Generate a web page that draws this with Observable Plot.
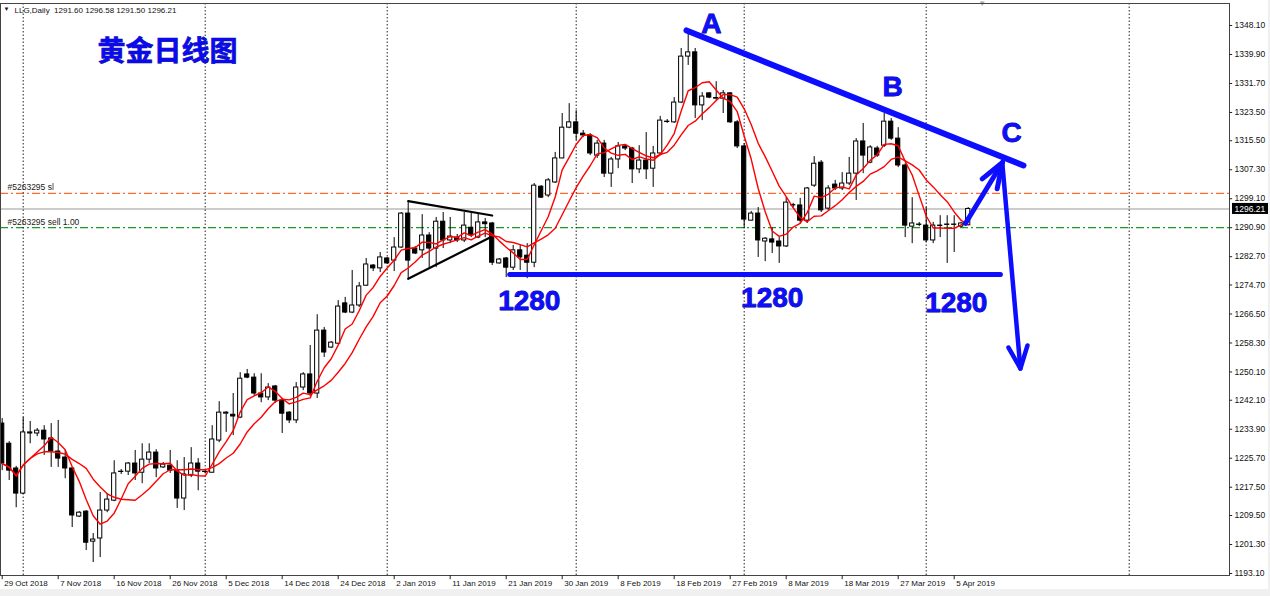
<!DOCTYPE html>
<html>
<head>
<meta charset="utf-8">
<script src="https://cdn.jsdelivr.net/npm/d3@7"></script>
<script src="https://cdn.jsdelivr.net/npm/@observablehq/plot@0.6"></script>
<style>
  html, body { margin: 0; padding: 0; background: #ffffff; }
  #wrap { position: relative; width: 1270px; height: 596px; overflow: hidden; }
  .strip { position: absolute; background: #f0f0f0; }
</style>
</head>
<body>
<div id="wrap"></div>
<script>
// ---------- data (LLG daily, bar index 0 = 29 Oct 2018) ----------
const opens = [
  1235.5,1229.8,1222.8,1215.7,1232.7,1232.7,1233.5,1231.3,1227.6,1225.9,
  1222.8,1209.2,1210.6,1202.1,1203.0,1210.9,1213.7,1221.8,1221.9,1224.2,
  1221.6,1225.3,1227.3,1223.1,1223.6,1222.2,1214.3,1220.8,1224.2,1221.9,
  1221.6,1230.7,1238.3,1238.0,1237.2,1249.4,1248.5,1244.0,1242.9,1246.0,
  1242.0,1238.6,1236.4,1245.7,1249.4,1244.0,1261.8,1257.0,1258.1,1269.5,
  1266.9,1268.9,1274.5,1280.2,1279.4,1282.2,1281.6,1285.3,1294.9,1285.0,
  1284.5,1288.7,1285.0,1292.6,1287.3,1288.1,1287.3,1290.9,1288.1,1292.4,
  1292.1,1280.8,1282.2,1279.6,1284.5,1283.0,1281.0,1302.5,1300.0,1303.7,
  1310.5,1319.2,1320.7,1317.5,1317.0,1311.3,1314.7,1306.2,1310.2,1313.9,
  1313.3,1307.4,1309.9,1307.6,1311.9,1320.8,1320.7,1326.3,1339.3,1340.5,
  1325.5,1328.9,1327.4,1327.4,1328.9,1320.7,1313.9,1292.9,1294.9,1287.0,
  1287.6,1287.0,1285.6,1297.2,1297.2,1292.9,1302.8,1309.3,1296.3,1303.1,
  1302.0,1303.4,1306.2,1315.3,1309.3,1313.3,1314.1,1320.9,1316.1,1308.5,
  1291.2,1291.8,1291.5,1287.3,1291.5,1291.8,1291.7,1291.2,1291.60
];
const highs = [
  1236.9,1230.4,1223.4,1237.2,1236.1,1234.1,1234.9,1235.5,1236.4,1227.9,
  1223.1,1210.6,1210.9,1204.4,1216.0,1215.7,1225.0,1222.5,1224.5,1227.9,
  1229.8,1229.8,1228.1,1224.5,1227.9,1225.0,1225.9,1228.7,1225.6,1222.2,
  1234.9,1241.7,1238.9,1244.0,1249.9,1250.8,1249.6,1249.6,1246.8,1246.3,
  1242.6,1238.9,1247.1,1249.9,1257.6,1266.3,1262.7,1258.7,1270.3,1271.2,
  1278.8,1275.4,1282.2,1280.5,1283.9,1282.5,1288.1,1295.2,1298.3,1285.6,
  1294.6,1289.5,1293.8,1295.2,1293.8,1289.0,1295.2,1294.9,1294.9,1293.5,
  1292.4,1282.2,1282.5,1285.9,1285.9,1286.4,1303.4,1302.8,1304.8,1312.2,
  1323.2,1326.0,1324.0,1318.4,1317.5,1315.6,1315.6,1310.8,1315.0,1314.4,
  1313.6,1314.1,1317.8,1313.9,1322.4,1321.5,1327.7,1341.6,1345.8,1341.6,
  1329.1,1329.1,1332.2,1329.7,1329.1,1321.2,1314.7,1295.5,1296.6,1288.1,
  1290.9,1288.1,1299.4,1297.8,1299.2,1302.3,1311.0,1309.9,1302.8,1304.3,
  1306.5,1310.8,1316.1,1320.4,1314.1,1313.9,1323.2,1321.8,1319.2,1309.0,
  1299.4,1292.4,1296.6,1292.4,1294.3,1294.3,1294.3,1292.4,1296.58
];
const lows = [
  1222.2,1219.4,1211.7,1215.4,1229.8,1231.8,1226.5,1223.1,1223.1,1219.9,
  1206.1,1208.9,1199.6,1196.2,1197.6,1210.3,1213.4,1221.1,1220.8,1219.4,
  1218.5,1224.2,1220.2,1222.8,1221.4,1211.5,1210.9,1220.2,1216.5,1221.4,
  1221.5,1230.1,1233.0,1232.1,1236.9,1248.2,1243.4,1241.4,1242.0,1241.2,
  1232.7,1235.5,1235.5,1244.8,1243.1,1242.6,1254.2,1256.7,1257.8,1266.6,
  1266.6,1268.3,1274.3,1278.5,1278.2,1280.5,1278.5,1285.0,1276.5,1283.3,
  1282.2,1279.6,1279.6,1285.0,1286.4,1286.7,1286.7,1288.1,1287.8,1288.1,
  1280.2,1280.6,1276.8,1278.8,1278.8,1276.5,1279.6,1299.2,1299.4,1303.4,
  1310.4,1318.9,1315.6,1316.4,1311.3,1310.5,1305.1,1302.3,1307.6,1312.7,
  1303.4,1306.2,1304.5,1302.3,1311.3,1320.4,1320.4,1326.0,1336.8,1321.8,
  1321.2,1327.4,1326.9,1323.2,1320.4,1313.3,1290.7,1292.8,1282.5,1281.3,
  1283.6,1280.8,1285.3,1296.6,1292.1,1292.1,1302.3,1295.2,1295.8,1301.4,
  1301.4,1302.8,1298.6,1306.2,1309.0,1310.8,1313.6,1315.6,1307.9,1288.1,
  1286.4,1291.2,1286.7,1286.4,1288.1,1280.8,1283.9,1290.9,1291.50
];
const closes = [
  1224.2,1222.2,1215.7,1233.0,1233.0,1233.5,1231.0,1227.6,1225.6,1222.8,
  1209.5,1210.3,1201.8,1202.7,1210.9,1214.0,1221.4,1221.9,1224.2,1221.4,
  1225.3,1227.3,1222.8,1223.9,1222.2,1214.3,1221.1,1224.2,1221.9,1221.8,
  1231.0,1238.6,1238.6,1237.5,1248.2,1248.5,1244.0,1242.9,1245.7,1242.0,
  1238.3,1236.4,1245.7,1249.4,1244.0,1261.8,1255.6,1258.4,1268.6,1266.9,
  1268.9,1274.3,1280.5,1279.4,1282.5,1280.8,1285.3,1294.9,1281.6,1283.6,
  1288.7,1285.0,1292.6,1287.3,1288.4,1287.3,1291.5,1288.7,1292.4,1291.9,
  1281.0,1281.9,1279.6,1284.5,1282.5,1281.0,1302.8,1299.4,1304.3,1310.5,
  1319.2,1320.7,1317.5,1317.0,1311.9,1314.7,1306.2,1310.2,1313.9,1313.3,
  1307.4,1309.9,1307.4,1311.9,1321.2,1320.9,1326.3,1339.3,1340.5,1325.5,
  1328.0,1327.7,1327.6,1328.9,1320.7,1313.9,1293.2,1294.9,1287.3,1287.8,
  1286.7,1285.6,1298.0,1297.3,1292.9,1302.0,1309.0,1295.8,1302.0,1302.0,
  1303.4,1306.2,1315.3,1311.3,1313.6,1311.3,1320.9,1316.1,1308.5,1291.5,
  1292.1,1291.7,1287.3,1291.5,1291.4,1291.7,1291.8,1292.1,1296.21
];

const xTickBars = [0,8,16,24,32,40,48,56,64,72,80,88,96,104,112,120,128,136];
const xTickLabels = ["29 Oct 2018","7 Nov 2018","16 Nov 2018","26 Nov 2018","5 Dec 2018",
  "14 Dec 2018","24 Dec 2018","2 Jan 2019","11 Jan 2019","21 Jan 2019","30 Jan 2019",
  "8 Feb 2019","18 Feb 2019","27 Feb 2019","8 Mar 2019","18 Mar 2019","27 Mar 2019","5 Apr 2019"];
const yTicks = [1348.10,1339.90,1331.70,1323.50,1315.50,1307.30,1299.10,1290.90,1282.70,1274.70,
  1266.50,1258.30,1250.10,1242.10,1233.90,1225.70,1217.50,1209.50,1201.30,1193.10];
const gridBars = [3,29,55,82,106,132,161];

const slLevel = 1300.6;
const sellLevel = 1290.9;
const lastPrice = 1296.21;
const headerText = "LLG,Daily  1291.60 1296.58 1291.50 1296.21";
const titleText = "黄金日线图";

// annotation geometry in (bar index, price)
const trendLine   = [[97.76,1346.7],[145.9,1308.5]];
const supportLine = [[72.5,1277.7],[142.6,1277.7]];
const triTop      = [[58,1298.4],[70.0,1294.35]];
const triBottom   = [[58,1276.44],[69.76,1288.21]];
const upShaft     = [[137.6,1292.1],[142.9,1309.35]];
const upHead      = [[140.0,1304.7],[142.9,1309.35],[142.14,1301.9]];
const downShaft   = [[142.9,1308.5],[145.46,1251.07]];
const downHead    = [[143.76,1257.0],[145.46,1251.07],[146.47,1257.6]];
const letterLabels = [{t:"A",x:101.3,y:1348.5},{t:"B",x:127.2,y:1330.6},{t:"C",x:144.2,y:1317.55}];
const levelLabels  = [{t:"1280",x:75.3,y:1270.3},{t:"1280",x:110.0,y:1271.15},{t:"1280",x:136.3,y:1269.5}];
const shiftBar = 140;

// ---------- chart ----------
const bars = closes.map((c, i) => ({i, open: opens[i], high: highs[i], low: lows[i], close: c}));
const xDomain = [-0.243, 175.33];
const yDomain = [1192.53, 1354.32];
const xMax = xDomain[1];
const blue = "#0d0dff";
const pts = a => a.map(([x, y]) => ({x, y}));
const poly = (a, w) => Plot.line(pts(a), {x: "x", y: "y", stroke: blue, strokeWidth: w, strokeLinecap: "round", strokeLinejoin: "round"});

const chart = Plot.plot({
  width: 1270, height: 596,
  marginLeft: 0, marginRight: 41, marginTop: 3, marginBottom: 21,
  x: {domain: xDomain, axis: null},
  y: {domain: yDomain, axis: null},
  style: {fontFamily: "Liberation Sans, Arial, sans-serif", background: "white", overflow: "visible"},
  marks: [
    // order / price lines
    Plot.ruleY([slLevel], {stroke: "#ff6a30", strokeWidth: 1.2, strokeDasharray: "8,3,2,3"}),
    Plot.ruleY([lastPrice], {stroke: "#cccccc", strokeWidth: 2}),
    Plot.ruleY([sellLevel], {stroke: "#1f991f", strokeWidth: 1.2, strokeDasharray: "8,3,2,3"}),
    Plot.text([slLevel], {y: d => d, frameAnchor: "left", dx: 7, dy: -6, textAnchor: "start", lineAnchor: "middle", text: () => "#5263295 sl", fontSize: 8.5, fill: "#222"}),
    Plot.text([sellLevel], {y: d => d, frameAnchor: "left", dx: 7, dy: -5.5, textAnchor: "start", lineAnchor: "middle", text: () => "#5263295 sell 1.00", fontSize: 8.5, fill: "#222"}),
    // vertical dotted grid
    Plot.ruleX(gridBars, {x: d => d, stroke: "#222", strokeDasharray: "1.5,2"}),
    // candles
    Plot.ruleX(bars, {x: "i", y1: "low", y2: "high", stroke: "black", strokeWidth: 1}),
    Plot.rect(bars, {x1: d => d.i - 0.3, x2: d => d.i + 0.3, y1: "open", y2: "close",
      fill: d => d.close >= d.open ? "white" : "black", stroke: "black", strokeWidth: 1}),
    // moving averages
    Plot.lineY(bars, Plot.windowY({k: 10, anchor: "end", reduce: "mean"}, {x: "i", y: "close", stroke: "red", strokeWidth: 1.4})),
    Plot.lineY(bars, Plot.windowY({k: 5, anchor: "end", reduce: "mean"}, {x: "i", y: "close", stroke: "red", strokeWidth: 1.4})),
    // pennant
    Plot.line(pts(triTop), {x: "x", y: "y", stroke: "black", strokeWidth: 2.2}),
    Plot.line(pts(triBottom), {x: "x", y: "y", stroke: "black", strokeWidth: 2.2}),
    // blue annotations
    poly(trendLine, 6),
    poly(supportLine, 5),
    poly(upShaft, 5),
    poly(upHead, 5),
    poly(downShaft, 4.5),
    poly(downHead, 4.5),
    Plot.text(letterLabels, {x: "x", y: "y", text: "t", fontSize: 28, fontWeight: "bold", fill: blue, stroke: "#000070", strokeWidth: 0.8, paintOrder: "stroke", lineAnchor: "middle"}),
    Plot.text(levelLabels, {x: "x", y: "y", text: "t", fontSize: 28, fontWeight: "bold", fill: blue, stroke: "#000070", strokeWidth: 0.8, paintOrder: "stroke", lineAnchor: "middle"}),
    // title & header
    Plot.text([titleText], {frameAnchor: "top-left", dx: 97, dy: 49, text: d => d, textAnchor: "start", lineAnchor: "middle",
      fontSize: 28, fontWeight: "bold", fontFamily: "Noto Sans CJK SC", fill: "#0a0af0", stroke: "#00005a", strokeWidth: 0.6, paintOrder: "stroke"}),
    Plot.text(["▼"], {frameAnchor: "top-left", dx: 3, dy: 6, text: d => d, textAnchor: "start", lineAnchor: "middle", fontSize: 6, fill: "#111"}),
    Plot.text([headerText], {frameAnchor: "top-left", dx: 14, dy: 7, text: d => d, textAnchor: "start", lineAnchor: "middle", fontSize: 8, fill: "#111"}),
    Plot.text([shiftBar], {x: d => d, frameAnchor: "top", dy: -3, text: () => "▼", lineAnchor: "top", fontSize: 8, fill: "#a8a8a8"}),
    // frame
    Plot.frame({stroke: "#444", strokeWidth: 1}),
    // right price axis
    Plot.ruleY(yTicks, {y: d => d, x1: xMax, x2: xMax + 0.45, stroke: "#222"}),
    Plot.text(yTicks, {y: d => d, frameAnchor: "right", dx: 5, textAnchor: "start", lineAnchor: "middle", text: d => d.toFixed(2), fontSize: 8.5, fill: "#111"}),
    Plot.rect([lastPrice], {x1: xMax + 0.43, x2: xMax + 5.6, y1: d => d - 1.56, y2: d => d + 1.56, fill: "black"}),
    Plot.text([lastPrice], {y: d => d, frameAnchor: "right", dx: 5, textAnchor: "start", lineAnchor: "middle", text: d => d.toFixed(2), fontSize: 8.5, fill: "white"}),
    // bottom date axis
    Plot.ruleX(xTickBars, {x: d => d, y1: yDomain[0], y2: yDomain[0] - 1.2, stroke: "#222"}),
    Plot.text(xTickBars, {x: d => d, frameAnchor: "bottom", dx: 2, dy: 8, textAnchor: "start", lineAnchor: "middle", text: (d, i) => xTickLabels[i], fontSize: 8, fill: "#111"})
  ]
});

const wrap = document.getElementById("wrap");
wrap.appendChild(chart);
const s1 = document.createElement("div");
s1.className = "strip"; s1.style.cssText = "left:0;top:589px;width:1270px;height:7px;";
wrap.appendChild(s1);
const s2 = document.createElement("div");
s2.className = "strip"; s2.style.cssText = "left:1268px;top:0;width:2px;height:596px;";
wrap.appendChild(s2);
</script>
</body>
</html>
